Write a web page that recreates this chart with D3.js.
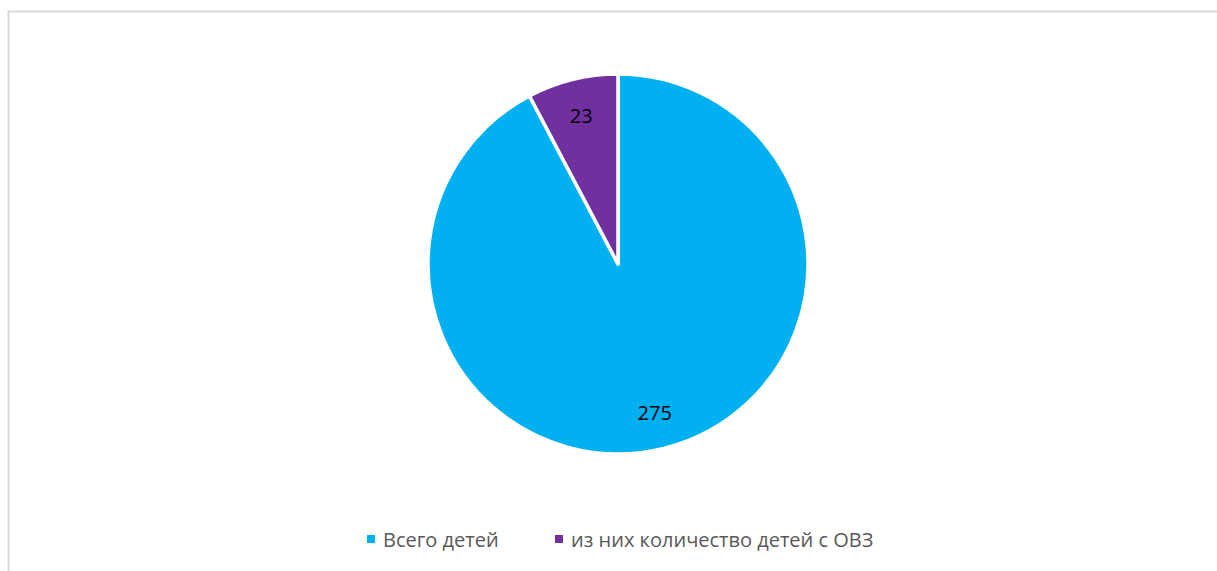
<!DOCTYPE html>
<html>
<head>
<meta charset="utf-8">
<script src="https://cdn.jsdelivr.net/npm/d3@7"></script>
<style>
html,body{margin:0;padding:0;background:#fff;}
svg{display:block;}
</style>
</head>
<body>
<svg id="chart" width="1217" height="571"></svg>
<script>
const categories = ["Всего детей", "из них количество детей с ОВЗ"];
const values = [275, 23];
const colors = ["#00B0F0", "#7030A0"];

const svg = d3.select("#chart");
const W = 1217, H = 571;

// chart frame (cropped at right/bottom)
svg.append("path")
  .attr("d", `M8.5,${H+5} L8.5,11.5 L${W+5},11.5`)
  .attr("fill", "none")
  .attr("stroke", "#d9d9d9")
  .attr("stroke-width", 2);

const cx = 618, cy = 264, r = 190;
const data = categories.map((c, i) => ({cat: c, val: values[i], color: colors[i]}));
const pie = d3.pie().sort(null).value(d => d.val).startAngle(0).endAngle(2 * Math.PI);
const arcs = pie(data);
const arc = d3.arc().innerRadius(0).outerRadius(r);
const labelArc = d3.arc().innerRadius(153).outerRadius(153);

const g = svg.append("g").attr("transform", `translate(${cx},${cy})`);
g.selectAll("path.slice").data(arcs).join("path")
  .attr("class", "slice")
  .attr("d", arc)
  .attr("fill", d => d.data.color)
  .attr("stroke", "#fff")
  .attr("stroke-width", 3.5)
  .attr("stroke-linejoin", "round");

g.selectAll("text.lbl").data(arcs).join("text")
  .attr("class", "lbl")
  .attr("transform", d => `translate(${labelArc.centroid(d)})`)
  .attr("text-anchor", "middle")
  .attr("dominant-baseline", "central")
  .attr("font-family", "'Open Sans', sans-serif")
  .attr("font-size", 20)
  .attr("fill", "#000")
  .text(d => d.data.val);

// legend
const legendX = [367, 555];
const lg = svg.append("g");
data.forEach((d, i) => {
  lg.append("rect")
    .attr("x", legendX[i]).attr("y", 535)
    .attr("width", 8).attr("height", 8)
    .attr("fill", d.color);
  lg.append("text")
    .attr("x", legendX[i] + 16).attr("y", 539)
    .attr("dominant-baseline", "central")
    .attr("font-family", "'Open Sans', sans-serif")
    .attr("font-size", 20)
    .attr("fill", "#595959")
    .text(d.cat);
});
</script>
</body>
</html>
